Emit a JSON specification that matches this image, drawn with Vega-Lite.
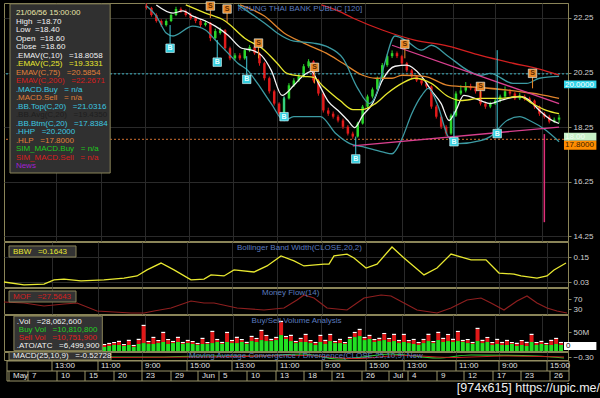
{
"$schema": "https://vega.github.io/schema/vega-lite/v6.json",
"background": "#000000",
"padding": 0,
"spacing": 1,
"bounds": "flush",
"config": {
 "view": {"stroke": "#8a8458", "fill": "#000000"},
 "axis": {"labelColor": "#d0d0d0", "labelFontSize": 8, "labelFont": "Liberation Sans", "tickColor": "#8a8458", "domainColor": "#8a8458", "tickSize": 3, "gridColor": "#2a2a2a", "labelPadding": 2},
 "text": {"font": "Liberation Sans", "fontSize": 8}
},
"datasets": {
 "px": [
  {"t":140,"o":22.70,"c":22.62,"h":22.78,"l":22.56},{"t":145,"o":22.62,"c":22.36,"h":22.66,"l":22.30},{"t":150,"o":22.36,"c":22.14,"h":22.42,"l":22.08},{"t":155,"o":22.14,"c":21.99,"h":22.20,"l":21.92},{"t":160,"o":21.99,"c":22.14,"h":22.20,"l":21.94},{"t":165,"o":22.14,"c":22.36,"h":22.42,"l":22.10},{"t":170,"o":22.36,"c":22.58,"h":22.66,"l":22.32},{"t":175,"o":22.58,"c":22.51,"h":22.64,"l":22.44},{"t":180,"o":22.51,"c":22.36,"h":22.56,"l":22.30},{"t":185,"o":22.36,"c":22.25,"h":22.44,"l":22.18},{"t":190,"o":22.25,"c":22.14,"h":22.32,"l":22.06},{"t":195,"o":22.14,"c":21.99,"h":22.20,"l":21.92},{"t":200,"o":21.99,"c":22.07,"h":22.16,"l":21.94},{"t":205,"o":22.07,"c":21.51,"h":22.10,"l":21.40},{"t":210,"o":21.51,"c":21.77,"h":21.86,"l":21.46},{"t":215,"o":21.70,"c":21.80,"h":21.90,"l":21.64},{"t":220,"o":21.80,"c":21.14,"h":21.84,"l":21.05},{"t":225,"o":21.14,"c":20.77,"h":21.20,"l":20.70},{"t":230,"o":20.77,"c":20.88,"h":20.96,"l":20.70},{"t":235,"o":20.88,"c":20.77,"h":20.96,"l":20.70},{"t":240,"o":20.77,"c":21.07,"h":21.14,"l":20.72},{"t":245,"o":21.07,"c":21.18,"h":21.26,"l":21.00},{"t":250,"o":21.18,"c":20.96,"h":21.22,"l":20.90},{"t":255,"o":20.96,"c":20.59,"h":21.00,"l":20.50},{"t":260,"o":20.59,"c":20.04,"h":20.64,"l":19.96},{"t":265,"o":20.04,"c":19.56,"h":20.10,"l":19.48},{"t":270,"o":19.56,"c":19.11,"h":19.62,"l":19.04},{"t":275,"o":19.11,"c":18.74,"h":19.16,"l":18.66},{"t":280,"o":18.74,"c":19.30,"h":19.36,"l":18.70},{"t":285,"o":19.30,"c":19.78,"h":19.86,"l":19.26},{"t":290,"o":19.78,"c":19.96,"h":20.04,"l":19.72},{"t":295,"o":19.96,"c":20.11,"h":20.20,"l":19.90},{"t":300,"o":20.11,"c":20.48,"h":20.56,"l":20.06},{"t":305,"o":20.48,"c":20.66,"h":20.74,"l":20.42},{"t":310,"o":20.66,"c":19.96,"h":20.70,"l":19.88},{"t":315,"o":19.96,"c":19.48,"h":20.02,"l":19.40},{"t":320,"o":19.48,"c":18.86,"h":19.54,"l":18.78},{"t":325,"o":18.86,"c":18.74,"h":18.96,"l":18.66},{"t":330,"o":18.74,"c":18.63,"h":18.82,"l":18.56},{"t":335,"o":18.63,"c":18.49,"h":18.70,"l":18.42},{"t":340,"o":18.49,"c":18.26,"h":18.56,"l":18.18},{"t":345,"o":18.26,"c":18.01,"h":18.32,"l":17.94},{"t":350,"o":18.01,"c":17.90,"h":18.08,"l":17.82},{"t":355,"o":17.90,"c":18.38,"h":18.44,"l":17.86},{"t":360,"o":18.38,"c":19.00,"h":19.06,"l":18.34},{"t":365,"o":19.00,"c":19.37,"h":19.44,"l":18.94},{"t":370,"o":19.37,"c":19.63,"h":19.70,"l":19.30},{"t":375,"o":19.63,"c":20.04,"h":20.10,"l":19.58},{"t":380,"o":20.04,"c":20.52,"h":20.60,"l":20.00},{"t":385,"o":20.52,"c":20.85,"h":20.92,"l":20.46},{"t":390,"o":20.85,"c":20.96,"h":21.06,"l":20.78},{"t":395,"o":20.96,"c":20.85,"h":21.02,"l":20.78},{"t":400,"o":20.85,"c":20.59,"h":20.90,"l":20.52},{"t":405,"o":20.59,"c":20.33,"h":20.64,"l":20.26},{"t":410,"o":20.33,"c":20.11,"h":20.38,"l":20.04},{"t":415,"o":20.11,"c":19.96,"h":20.16,"l":19.90},{"t":420,"o":19.96,"c":19.85,"h":20.02,"l":19.78},{"t":425,"o":19.85,"c":19.74,"h":19.90,"l":19.66},{"t":430,"o":19.74,"c":19.00,"h":19.78,"l":18.92},{"t":435,"o":19.00,"c":18.63,"h":19.06,"l":18.56},{"t":440,"o":18.63,"c":18.26,"h":18.68,"l":18.18},{"t":445,"o":18.26,"c":18.01,"h":18.32,"l":17.92},{"t":450,"o":18.01,"c":18.67,"h":18.74,"l":17.96},{"t":455,"o":18.67,"c":19.48,"h":19.56,"l":18.62},{"t":460,"o":19.48,"c":19.59,"h":19.78,"l":19.42},{"t":465,"o":19.59,"c":19.74,"h":19.90,"l":19.52},{"t":470,"o":19.74,"c":19.67,"h":19.84,"l":19.60},{"t":475,"o":19.67,"c":19.56,"h":19.72,"l":19.48},{"t":480,"o":19.56,"c":19.11,"h":19.60,"l":19.04},{"t":485,"o":19.11,"c":19.00,"h":19.18,"l":18.92},{"t":490,"o":19.00,"c":19.11,"h":19.18,"l":18.94},{"t":495,"o":19.11,"c":19.22,"h":19.30,"l":19.06},{"t":500,"o":19.22,"c":19.37,"h":19.44,"l":19.16},{"t":505,"o":19.37,"c":19.56,"h":19.74,"l":19.32},{"t":510,"o":19.56,"c":19.48,"h":19.64,"l":19.40},{"t":515,"o":19.48,"c":19.30,"h":19.54,"l":19.24},{"t":520,"o":19.30,"c":19.37,"h":19.50,"l":19.24},{"t":525,"o":19.37,"c":19.30,"h":19.44,"l":19.22},{"t":530,"o":19.30,"c":19.22,"h":19.36,"l":19.16},{"t":535,"o":19.22,"c":19.00,"h":19.26,"l":18.92},{"t":540,"o":19.00,"c":18.74,"h":19.04,"l":18.66},{"t":545,"o":18.74,"c":18.63,"h":18.80,"l":18.56},{"t":550,"o":18.63,"c":18.45,"h":18.70,"l":18.38},{"t":555,"o":18.45,"c":18.52,"h":18.60,"l":18.40},{"t":560,"o":18.52,"c":18.60,"h":18.70,"l":18.40}
 ],
 "lines": [
  {"s":"e10","t":150,"v":22.73},{"s":"e10","t":167,"v":22.43},{"s":"e10","t":177,"v":22.51},{"s":"e10","t":187,"v":22.32},{"s":"e10","t":200,"v":22.14},{"s":"e10","t":210,"v":21.95},{"s":"e10","t":223,"v":21.62},{"s":"e10","t":237,"v":21.14},{"s":"e10","t":247,"v":21.07},{"s":"e10","t":257,"v":20.88},{"s":"e10","t":267,"v":20.33},{"s":"e10","t":278,"v":19.41},{"s":"e10","t":290,"v":19.78},{"s":"e10","t":300,"v":20.15},{"s":"e10","t":308,"v":20.29},{"s":"e10","t":315,"v":19.85},{"s":"e10","t":325,"v":19.19},{"s":"e10","t":335,"v":18.86},{"s":"e10","t":345,"v":18.49},{"s":"e10","t":352,"v":18.23},{"s":"e10","t":360,"v":18.67},{"s":"e10","t":370,"v":19.11},{"s":"e10","t":380,"v":19.96},{"s":"e10","t":393,"v":20.48},{"s":"e10","t":405,"v":20.52},{"s":"e10","t":420,"v":20.11},{"s":"e10","t":430,"v":19.59},{"s":"e10","t":440,"v":19.11},{"s":"e10","t":448,"v":18.49},{"s":"e10","t":455,"v":18.86},{"s":"e10","t":463,"v":19.41},{"s":"e10","t":480,"v":19.22},{"s":"e10","t":490,"v":19.11},{"s":"e10","t":500,"v":19.22},{"s":"e10","t":520,"v":19.37},{"s":"e10","t":530,"v":19.22},{"s":"e10","t":540,"v":18.86},{"s":"e10","t":553,"v":18.49},{"s":"e10","t":560,"v":18.38},
  {"s":"e25","t":180,"v":22.73},{"s":"e25","t":200,"v":22.43},{"s":"e25","t":220,"v":22.14},{"s":"e25","t":240,"v":21.51},{"s":"e25","t":260,"v":21.07},{"s":"e25","t":273,"v":20.59},{"s":"e25","t":283,"v":20.22},{"s":"e25","t":300,"v":20.11},{"s":"e25","t":310,"v":20.07},{"s":"e25","t":320,"v":19.74},{"s":"e25","t":337,"v":19.22},{"s":"e25","t":350,"v":18.89},{"s":"e25","t":360,"v":18.89},{"s":"e25","t":373,"v":19.11},{"s":"e25","t":385,"v":19.48},{"s":"e25","t":400,"v":19.85},{"s":"e25","t":413,"v":20.04},{"s":"e25","t":430,"v":19.85},{"s":"e25","t":447,"v":19.37},{"s":"e25","t":460,"v":19.22},{"s":"e25","t":480,"v":19.30},{"s":"e25","t":500,"v":19.30},{"s":"e25","t":520,"v":19.37},{"s":"e25","t":533,"v":19.11},{"s":"e25","t":547,"v":18.86},{"s":"e25","t":560,"v":18.74},
  {"s":"e75","t":235,"v":22.73},{"s":"e75","t":260,"v":22.32},{"s":"e75","t":280,"v":21.70},{"s":"e75","t":300,"v":21.33},{"s":"e75","t":323,"v":20.96},{"s":"e75","t":340,"v":20.59},{"s":"e75","t":360,"v":20.15},{"s":"e75","t":373,"v":20.04},{"s":"e75","t":390,"v":20.04},{"s":"e75","t":400,"v":20.15},{"s":"e75","t":423,"v":20.11},{"s":"e75","t":447,"v":19.78},{"s":"e75","t":480,"v":19.70},{"s":"e75","t":520,"v":19.55},{"s":"e75","t":540,"v":19.45},{"s":"e75","t":560,"v":19.30},
  {"s":"e200","t":318,"v":22.73},{"s":"e200","t":335,"v":22.51},{"s":"e200","t":350,"v":22.25},{"s":"e200","t":380,"v":21.81},{"s":"e200","t":413,"v":21.44},{"s":"e200","t":447,"v":21.22},{"s":"e200","t":480,"v":20.88},{"s":"e200","t":513,"v":20.59},{"s":"e200","t":540,"v":20.37},{"s":"e200","t":560,"v":20.15},
  {"s":"bbt","t":233,"v":22.73},{"s":"bbt","t":250,"v":22.32},{"s":"bbt","t":260,"v":22.07},{"s":"bbt","t":273,"v":21.70},{"s":"bbt","t":290,"v":21.40},{"s":"bbt","t":310,"v":21.33},{"s":"bbt","t":325,"v":21.18},{"s":"bbt","t":340,"v":20.77},{"s":"bbt","t":355,"v":19.67},{"s":"bbt","t":367,"v":19.11},{"s":"bbt","t":375,"v":19.56},{"s":"bbt","t":382,"v":20.52},{"s":"bbt","t":393,"v":21.59},{"s":"bbt","t":405,"v":21.40},{"s":"bbt","t":420,"v":21.07},{"s":"bbt","t":430,"v":21.25},{"s":"bbt","t":447,"v":20.85},{"s":"bbt","t":467,"v":20.33},{"s":"bbt","t":480,"v":20.15},{"s":"bbt","t":490,"v":20.22},{"s":"bbt","t":513,"v":19.85},{"s":"bbt","t":527,"v":19.85},{"s":"bbt","t":540,"v":20.04},{"s":"bbt","t":560,"v":20.11},
  {"s":"bbb","t":140,"v":22.69},{"s":"bbb","t":150,"v":22.32},{"s":"bbb","t":160,"v":21.70},{"s":"bbb","t":167,"v":21.59},{"s":"bbb","t":187,"v":21.95},{"s":"bbb","t":200,"v":21.81},{"s":"bbb","t":210,"v":21.44},{"s":"bbb","t":223,"v":20.96},{"s":"bbb","t":233,"v":20.59},{"s":"bbb","t":243,"v":20.33},{"s":"bbb","t":253,"v":19.85},{"s":"bbb","t":267,"v":19.11},{"s":"bbb","t":280,"v":18.49},{"s":"bbb","t":290,"v":18.63},{"s":"bbb","t":317,"v":18.63},{"s":"bbb","t":333,"v":18.00},{"s":"bbb","t":347,"v":17.64},{"s":"bbb","t":360,"v":17.53},{"s":"bbb","t":380,"v":17.34},{"s":"bbb","t":390,"v":17.27},{"s":"bbb","t":400,"v":17.82},{"s":"bbb","t":410,"v":18.74},{"s":"bbb","t":420,"v":19.40},{"s":"bbb","t":427,"v":19.67},{"s":"bbb","t":437,"v":19.00},{"s":"bbb","t":447,"v":17.90},{"s":"bbb","t":457,"v":17.64},{"s":"bbb","t":480,"v":17.75},{"s":"bbb","t":490,"v":17.90},{"s":"bbb","t":507,"v":18.49},{"s":"bbb","t":520,"v":18.63},{"s":"bbb","t":530,"v":18.49},{"s":"bbb","t":547,"v":18.12},{"s":"bbb","t":560,"v":17.71},
  {"s":"tu","t":390,"v":21.25},{"s":"tu","t":560,"v":19.11},
  {"s":"tl","t":350,"v":17.56},{"s":"tl","t":560,"v":18.25}
 ],
 "marks": [
  {"t":164,"p":21.14,"a":21.99,"b":21.30,"k":"B"},{"t":212,"p":20.63,"a":21.44,"b":20.78,"k":"B"},{"t":242,"p":20.00,"a":20.85,"b":20.15,"k":"B"},{"t":280,"p":18.63,"a":19.37,"b":18.78,"k":"B"},{"t":353,"p":17.08,"a":17.90,"b":17.23,"k":"B"},{"t":453,"p":17.71,"a":18.82,"b":17.86,"k":"B"},{"t":497,"p":18.01,"a":21.07,"b":18.16,"k":"B"},
  {"t":205,"p":22.69,"a":22.55,"b":22.25,"k":"S"},{"t":222,"p":22.58,"a":22.44,"b":22.10,"k":"S"},{"t":254,"p":21.33,"a":21.19,"b":20.77,"k":"S"},{"t":311,"p":20.44,"a":20.30,"b":19.85,"k":"S"},{"t":403,"p":21.29,"a":21.15,"b":20.77,"k":"S"},{"t":480,"p":19.74,"a":19.60,"b":19.22,"k":"S"},{"t":533,"p":20.22,"a":20.08,"b":19.67,"k":"S"}
 ],
 "leg": [
  {"row":1,"txt":"21/06/56 15:00:00","k":"date"},
  {"row":2,"txt":"High\u00a0\u00a0=18.70","k":"w"},
  {"row":3,"txt":"Low\u00a0\u00a0=18.40","k":"w"},
  {"row":4,"txt":"Open\u00a0\u00a0=18.60","k":"w"},
  {"row":5,"txt":"Close\u00a0\u00a0=18.60","k":"w"},
  {"row":6,"txt":".EMAV(C,10)\u00a0\u00a0\u00a0=18.8058","k":"w"},
  {"row":7,"txt":".EMAV(C,25)\u00a0\u00a0\u00a0=19.3331","k":"y"},
  {"row":8,"txt":"EMAV(C,75)\u00a0\u00a0\u00a0=20.5854","k":"o"},
  {"row":9,"txt":"EMAV(C,200)\u00a0\u00a0\u00a0=22.2671","k":"r"},
  {"row":10,"txt":".MACD.Buy\u00a0\u00a0\u00a0= n/a","k":"c"},
  {"row":11,"txt":".MACD.Sell\u00a0\u00a0\u00a0= n/a","k":"o"},
  {"row":12,"txt":".BB.Top(C,20)\u00a0\u00a0\u00a0=21.0316","k":"c"},
  {"row":13,"txt":".BB.Avg(C,20)\u00a0\u00a0\u00a0=19.4350","k":"dk"},
  {"row":14,"txt":".BB.Btm(C,20)\u00a0\u00a0\u00a0=17.8384","k":"c"},
  {"row":15,"txt":".HHP\u00a0\u00a0\u00a0=20.2000","k":"c"},
  {"row":16,"txt":".HLP\u00a0\u00a0\u00a0=17.8000","k":"o"},
  {"row":17,"txt":"SIM_MACD.Buy\u00a0\u00a0\u00a0= n/a","k":"g"},
  {"row":18,"txt":"SIM_MACD.Sell\u00a0\u00a0\u00a0= n/a","k":"r"},
  {"row":19,"txt":"News","k":"p"}
 ],
 "bbw": [
  {"t":0,"v":0.030},{"t":20,"v":0.016},{"t":40,"v":0.020},{"t":50,"v":0.040},{"t":60,"v":0.044},{"t":77,"v":0.035},{"t":100,"v":0.040},{"t":120,"v":0.049},{"t":133,"v":0.059},{"t":143,"v":0.088},{"t":157,"v":0.121},{"t":170,"v":0.088},{"t":187,"v":0.040},{"t":200,"v":0.044},{"t":207,"v":0.064},{"t":220,"v":0.059},{"t":230,"v":0.088},{"t":250,"v":0.078},{"t":263,"v":0.107},{"t":277,"v":0.155},{"t":290,"v":0.131},{"t":300,"v":0.107},{"t":320,"v":0.116},{"t":325,"v":0.116},{"t":330,"v":0.155},{"t":343,"v":0.164},{"t":350,"v":0.145},{"t":362,"v":0.097},{"t":373,"v":0.116},{"t":388,"v":0.198},{"t":400,"v":0.145},{"t":420,"v":0.064},{"t":433,"v":0.097},{"t":447,"v":0.164},{"t":467,"v":0.136},{"t":482,"v":0.136},{"t":495,"v":0.073},{"t":510,"v":0.068},{"t":517,"v":0.059},{"t":533,"v":0.049},{"t":543,"v":0.059},{"t":550,"v":0.088},{"t":562,"v":0.121}
 ],
 "mfi": [
  {"t":0,"v":58},{"t":20,"v":54},{"t":40,"v":42},{"t":60,"v":50},{"t":73,"v":54},{"t":93,"v":22},{"t":110,"v":18},{"t":127,"v":14},{"t":140,"v":14},{"t":150,"v":22},{"t":167,"v":34},{"t":187,"v":62},{"t":200,"v":54},{"t":210,"v":54},{"t":233,"v":34},{"t":260,"v":26},{"t":280,"v":34},{"t":293,"v":66},{"t":300,"v":86},{"t":310,"v":74},{"t":323,"v":34},{"t":343,"v":26},{"t":360,"v":74},{"t":377,"v":86},{"t":387,"v":82},{"t":400,"v":54},{"t":413,"v":26},{"t":433,"v":14},{"t":447,"v":34},{"t":463,"v":66},{"t":477,"v":74},{"t":487,"v":54},{"t":500,"v":26},{"t":513,"v":62},{"t":523,"v":82},{"t":533,"v":54},{"t":543,"v":34},{"t":553,"v":22},{"t":563,"v":14}
 ],
 "vol": [
  {"t":97,"buy":10.5,"tot":15.8,"all":18.6},{"t":102,"buy":13.2,"tot":18.4,"all":21.4},{"t":107,"buy":15.8,"tot":21.0,"all":23.8},{"t":112,"buy":15.8,"tot":23.7,"all":26.9},{"t":117,"buy":13.2,"tot":15.8,"all":18.5},{"t":122,"buy":15.8,"tot":26.3,"all":29.6},{"t":127,"buy":10.5,"tot":13.2,"all":16.0},{"t":132,"buy":18.4,"tot":28.9,"all":32.2},{"t":137,"buy":21.0,"tot":65.8,"all":69.1},{"t":142,"buy":18.4,"tot":23.7,"all":26.5},{"t":147,"buy":18.4,"tot":34.2,"all":37.4},{"t":152,"buy":21.0,"tot":26.3,"all":29.0},{"t":157,"buy":23.7,"tot":47.3,"all":50.6},{"t":162,"buy":18.4,"tot":28.9,"all":31.7},{"t":167,"buy":21.0,"tot":23.7,"all":26.6},{"t":172,"buy":23.7,"tot":34.2,"all":37.5},{"t":177,"buy":18.4,"tot":21.0,"all":23.9},{"t":182,"buy":21.0,"tot":26.3,"all":29.4},{"t":187,"buy":18.4,"tot":23.7,"all":26.4},{"t":192,"buy":15.8,"tot":18.4,"all":21.3},{"t":197,"buy":18.4,"tot":31.6,"all":34.8},{"t":202,"buy":18.4,"tot":21.0,"all":23.7},{"t":207,"buy":21.0,"tot":50.0,"all":53.3},{"t":212,"buy":23.7,"tot":28.9,"all":31.8},{"t":217,"buy":18.4,"tot":21.0,"all":24.1},{"t":222,"buy":23.7,"tot":47.3,"all":50.5},{"t":227,"buy":21.0,"tot":26.3,"all":29.2},{"t":232,"buy":21.0,"tot":34.2,"all":37.6},{"t":237,"buy":23.7,"tot":28.9,"all":31.7},{"t":242,"buy":18.4,"tot":21.0,"all":24.2},{"t":247,"buy":26.3,"tot":36.8,"all":40.0},{"t":252,"buy":23.7,"tot":31.6,"all":34.5},{"t":257,"buy":28.9,"tot":52.6,"all":55.9},{"t":262,"buy":26.3,"tot":39.5,"all":42.4},{"t":267,"buy":26.3,"tot":28.9,"all":32.0},{"t":272,"buy":28.9,"tot":34.2,"all":37.3},{"t":277,"buy":42.1,"tot":76.3,"all":79.6},{"t":282,"buy":31.6,"tot":36.8,"all":39.7},{"t":287,"buy":26.3,"tot":39.5,"all":42.8},{"t":292,"buy":21.0,"tot":23.7,"all":26.6},{"t":297,"buy":23.7,"tot":31.6,"all":34.7},{"t":302,"buy":23.7,"tot":42.1,"all":45.3},{"t":307,"buy":21.0,"tot":26.3,"all":29.1},{"t":312,"buy":15.8,"tot":21.0,"all":23.9},{"t":317,"buy":23.7,"tot":39.5,"all":42.7},{"t":322,"buy":18.4,"tot":26.3,"all":29.4},{"t":327,"buy":26.3,"tot":42.1,"all":45.2},{"t":332,"buy":21.0,"tot":23.7,"all":26.5},{"t":337,"buy":21.0,"tot":28.9,"all":32.1},{"t":342,"buy":18.4,"tot":21.0,"all":23.8},{"t":347,"buy":31.6,"tot":34.2,"all":37.3},{"t":352,"buy":36.8,"tot":47.3,"all":50.4},{"t":357,"buy":39.5,"tot":55.2,"all":58.5},{"t":362,"buy":28.9,"tot":34.2,"all":37.1},{"t":367,"buy":31.6,"tot":39.5,"all":42.6},{"t":372,"buy":23.7,"tot":28.9,"all":31.8},{"t":377,"buy":26.3,"tot":31.6,"all":34.9},{"t":382,"buy":28.9,"tot":44.7,"all":47.6},{"t":387,"buy":23.7,"tot":31.6,"all":34.4},{"t":392,"buy":26.3,"tot":42.1,"all":45.4},{"t":397,"buy":21.0,"tot":26.3,"all":29.2},{"t":402,"buy":23.7,"tot":42.1,"all":45.3},{"t":407,"buy":21.0,"tot":26.3,"all":29.0},{"t":412,"buy":18.4,"tot":28.9,"all":32.0},{"t":417,"buy":15.8,"tot":21.0,"all":23.9},{"t":422,"buy":21.0,"tot":28.9,"all":31.9},{"t":427,"buy":26.3,"tot":42.1,"all":45.5},{"t":432,"buy":21.0,"tot":23.7,"all":26.4},{"t":437,"buy":28.9,"tot":47.3,"all":50.6},{"t":442,"buy":23.7,"tot":31.6,"all":34.7},{"t":447,"buy":26.3,"tot":42.1,"all":45.0},{"t":452,"buy":23.7,"tot":28.9,"all":32.2},{"t":457,"buy":26.3,"tot":50.0,"all":53.1},{"t":462,"buy":23.7,"tot":26.3,"all":29.3},{"t":467,"buy":21.0,"tot":28.9,"all":31.6},{"t":472,"buy":18.4,"tot":21.0,"all":24.0},{"t":477,"buy":26.3,"tot":57.9,"all":61.2},{"t":482,"buy":21.0,"tot":26.3,"all":29.5},{"t":487,"buy":23.7,"tot":34.2,"all":37.1},{"t":492,"buy":15.8,"tot":21.0,"all":23.8},{"t":497,"buy":18.4,"tot":28.9,"all":32.1},{"t":502,"buy":15.8,"tot":21.0,"all":24.0},{"t":507,"buy":15.8,"tot":26.3,"all":29.4},{"t":512,"buy":18.4,"tot":21.0,"all":23.7},{"t":517,"buy":13.2,"tot":18.4,"all":21.5},{"t":522,"buy":15.8,"tot":26.3,"all":29.1},{"t":527,"buy":13.2,"tot":21.0,"all":24.2},{"t":532,"buy":23.7,"tot":42.1,"all":45.4},{"t":537,"buy":15.8,"tot":21.0,"all":23.8},{"t":542,"buy":18.4,"tot":23.7,"all":26.8},{"t":547,"buy":15.8,"tot":18.4,"all":21.3},{"t":552,"buy":15.8,"tot":26.3,"all":29.5},{"t":557,"buy":18.4,"tot":31.6,"all":34.7},{"t":562,"buy":15.8,"tot":21.0,"all":23.9}
 ],
 "macd": [
  {"s":"m","t":100,"v":-0.30},{"s":"m","t":150,"v":-0.30},{"s":"m","t":200,"v":-0.20},{"s":"m","t":250,"v":-0.20},{"s":"m","t":300,"v":0.0},{"s":"m","t":333,"v":-0.50},{"s":"m","t":350,"v":-0.40},{"s":"m","t":387,"v":0.0},{"s":"m","t":433,"v":-0.40},{"s":"m","t":467,"v":-0.10},{"s":"m","t":533,"v":-0.20},{"s":"m","t":560,"v":-0.40},
  {"s":"sig","t":100,"v":-0.35},{"s":"sig","t":200,"v":-0.30},{"s":"sig","t":300,"v":-0.15},{"s":"sig","t":350,"v":-0.45},{"s":"sig","t":400,"v":-0.15},{"s":"sig","t":450,"v":-0.35},{"s":"sig","t":500,"v":-0.20},{"s":"sig","t":560,"v":-0.30}
 ],
 "tsep": [
  {"s":48,"lab":"13:00"},{"s":94,"lab":"11:00"},{"s":138,"lab":"9:00"},{"s":183,"lab":"15:00"},{"s":228,"lab":"13:00"},{"s":273,"lab":"11:00"},{"s":318,"lab":"9:00"},{"s":362,"lab":"15:00"},{"s":400,"lab":"13:00"},{"s":452,"lab":"11:00"},{"s":495,"lab":"9:00"},{"s":543,"lab":"15:00"}
 ],
 "dsep": [
  {"s":5,"lab":"May"},{"s":24,"lab":"7"},{"s":53,"lab":"10"},{"s":81,"lab":"15"},{"s":110,"lab":"20"},{"s":138,"lab":"23"},{"s":167,"lab":"29"},{"s":194,"lab":"Jun"},{"s":215,"lab":"5"},{"s":243,"lab":"10"},{"s":272,"lab":"13"},{"s":300,"lab":"18"},{"s":328,"lab":"21"},{"s":358,"lab":"26"},{"s":385,"lab":"Jul"},{"s":404,"lab":"4"},{"s":433,"lab":"9"},{"s":460,"lab":"12"},{"s":489,"lab":"17"},{"s":517,"lab":"23"},{"s":546,"lab":"26"}
 ]
},
"vconcat": [
 {
  "width": 564, "height": 238,
  "resolve": {"scale": {"y": "independent", "color": "independent"}},
  "layer": [
   {
    "layer": [
     {"data": {"name": "px"}, "mark": {"type": "rule", "strokeWidth": 1},
      "encoding": {
       "x": {"field": "t", "type": "quantitative", "scale": {"domain": [0, 564], "nice": false, "zero": false},
             "axis": {"orient": "bottom", "labels": false, "ticks": false, "domain": false, "grid": true, "values": [48,94,138,183,228,273,318,362,400,452,495,543], "title": null}},
       "y": {"field": "l", "type": "quantitative", "scale": {"domain": [14.07, 22.8], "nice": false, "zero": false},
             "axis": {"orient": "right", "values": [14.25,14.75,15.25,15.75,16.25,16.75,17.25,17.75,18.25,18.75,19.25,19.75,20.25,20.75,21.25,21.75,22.25], "format": ".2f", "grid": true, "title": null}},
       "y2": {"field": "h"},
       "color": {"condition": {"test": "datum.c >= datum.o", "value": "#2ad62a"}, "value": "#e01a1a"}
      }},
     {"data": {"name": "px"}, "mark": {"type": "bar", "width": 2.5},
      "encoding": {
       "x": {"field": "t", "type": "quantitative"},
       "y": {"field": "o", "type": "quantitative"},
       "y2": {"field": "c"},
       "color": {"condition": {"test": "datum.c >= datum.o", "value": "#2ad62a"}, "value": "#e01a1a"}
      }},
     {"data": {"values": [{}]}, "mark": {"type": "rule", "color": "#3fb8c8", "strokeDash": [2, 2], "strokeWidth": 1},
      "encoding": {"y": {"datum": 20.2}}},
     {"data": {"values": [{}]}, "mark": {"type": "rule", "color": "#d07030", "strokeDash": [2, 2], "strokeWidth": 1},
      "encoding": {"y": {"datum": 17.8}}},
     {"data": {"name": "lines"}, "mark": {"type": "line", "interpolate": "monotone"},
      "encoding": {
       "x": {"field": "t", "type": "quantitative"},
       "y": {"field": "v", "type": "quantitative"},
       "detail": {"field": "s"},
       "color": {"field": "s", "type": "nominal", "legend": null,
                 "scale": {"domain": ["e10","e25","e75","e200","bbt","bbb","tu","tl"], "range": ["#f4f4f4","#e8e82e","#e0842c","#d42020","#3c9aa2","#3c9aa2","#d9408f","#d9408f"]}},
       "strokeWidth": {"field": "s", "type": "nominal", "legend": null,
                 "scale": {"domain": ["e10","e25","e75","e200","bbt","bbb","tu","tl"], "range": [1.3,1.3,1.3,2.6,1,1,2,1.6]}}
      }},
     {"data": {"values": [{}]}, "mark": {"type": "rule", "color": "#e0307a", "strokeWidth": 1.5},
      "encoding": {"x": {"datum": 545}, "y": {"datum": 17.99}, "y2": {"datum": 14.76}}},
     {"data": {"name": "marks"}, "mark": {"type": "rule", "strokeWidth": 1},
      "encoding": {
       "x": {"field": "t", "type": "quantitative"},
       "y": {"field": "a", "type": "quantitative"},
       "y2": {"field": "b"},
       "color": {"condition": {"test": "datum.k === 'B'", "value": "#40c8d8"}, "value": "#e8892a"}
      }},
     {"data": {"name": "marks"}, "mark": {"type": "point", "shape": "square", "filled": true, "size": 72, "opacity": 1, "stroke": "#e8ffff", "strokeWidth": 0.6},
      "encoding": {
       "x": {"field": "t", "type": "quantitative"},
       "y": {"field": "p", "type": "quantitative"},
       "color": {"condition": {"test": "datum.k === 'B'", "value": "#36cfe0"}, "value": "#e8892a"}
      }},
     {"data": {"name": "marks"}, "mark": {"type": "text", "fontSize": 7, "fontWeight": "bold", "baseline": "middle"},
      "encoding": {
       "x": {"field": "t", "type": "quantitative"},
       "y": {"field": "p", "type": "quantitative"},
       "text": {"field": "k"},
       "color": {"condition": {"test": "datum.k === 'B'", "value": "#e6ffff"}, "value": "#5a2a00"}
      }},
     {"data": {"values": [{}]}, "mark": {"type": "rect", "fill": "#33d6ea"},
      "encoding": {"x": {"datum": 565}, "x2": {"datum": 598}, "y": {"datum": 19.96}, "y2": {"datum": 19.67}}},
     {"data": {"values": [{}]}, "mark": {"type": "text", "align": "left", "baseline": "middle", "color": "#ffffff", "fontSize": 8, "text": "20.0000"},
      "encoding": {"x": {"datum": 566}, "y": {"datum": 19.81}}},
     {"data": {"values": [{}]}, "mark": {"type": "rect", "fill": "#c8f2c8"},
      "encoding": {"x": {"datum": 565}, "x2": {"datum": 598}, "y": {"datum": 18.04}, "y2": {"datum": 17.75}}},
     {"data": {"values": [{}]}, "mark": {"type": "text", "align": "left", "baseline": "middle", "color": "#f4fff4", "fontSize": 8, "text": "18.00"},
      "encoding": {"x": {"datum": 566}, "y": {"datum": 17.90}}},
     {"data": {"values": [{}]}, "mark": {"type": "rect", "fill": "#ff8c00"},
      "encoding": {"x": {"datum": 565}, "x2": {"datum": 598}, "y": {"datum": 17.75}, "y2": {"datum": 17.42}}},
     {"data": {"values": [{}]}, "mark": {"type": "text", "align": "left", "baseline": "middle", "color": "#3a1e00", "fontSize": 8, "text": "17.8000"},
      "encoding": {"x": {"datum": 566}, "y": {"datum": 17.59}}}
    ]
   },
   {
    "layer": [
     {"data": {"values": [{}]}, "mark": {"type": "rect", "fill": "#303030", "stroke": "#8a8458", "strokeWidth": 1},
      "encoding": {
       "x": {"datum": 1}, "x2": {"datum": 103},
       "y": {"datum": 0.1, "type": "quantitative", "scale": {"domain": [0, 28], "reverse": true, "nice": false, "zero": false}, "axis": null},
       "y2": {"datum": 20}
      }},
     {"data": {"name": "leg"}, "mark": {"type": "text", "align": "left", "baseline": "middle", "dy": 1.5, "fontSize": 8},
      "encoding": {
       "x": {"datum": 7},
       "y": {"field": "row", "type": "quantitative"},
       "text": {"field": "txt"},
       "color": {"field": "k", "type": "nominal", "legend": null,
                 "scale": {"domain": ["date","w","y","o","r","c","dk","g","p"], "range": ["#e8e4a8","#f2f2f2","#e8e82e","#e0803a","#d81e1e","#3cc8e0","#1e1e1e","#1ec81e","#a020d0"]}}
      }},
     {"data": {"values": [{}]}, "mark": {"type": "text", "align": "left", "baseline": "middle", "color": "#5b7bbf", "fontSize": 8, "text": "KRUNG THAI BANK PUBLIC [120]"},
      "encoding": {"x": {"datum": 233}, "y": {"datum": 0.75}}}
    ]
   }
  ]
 },
 {
  "width": 564, "height": 45,
  "layer": [
   {"data": {"name": "bbw"}, "mark": {"type": "line", "color": "#e8e830", "strokeWidth": 1.3},
    "encoding": {
     "x": {"field": "t", "type": "quantitative", "scale": {"domain": [0, 564], "nice": false, "zero": false},
           "axis": {"orient": "bottom", "labels": false, "ticks": false, "domain": false, "grid": true, "values": [48,94,138,183,228,273,318,362,400,452,495,543], "title": null}},
     "y": {"field": "v", "type": "quantitative", "scale": {"domain": [0.006, 0.222], "nice": false, "zero": false},
           "axis": {"orient": "right", "values": [0.03, 0.09, 0.15], "format": ".2f", "grid": true, "title": null}}
    }},
   {"data": {"values": [{}]}, "mark": {"type": "rect", "fill": "#333333", "stroke": "#8a8458"},
    "encoding": {"x": {"datum": 5}, "x2": {"datum": 72}, "y": {"datum": 0.203}, "y2": {"datum": 0.150}}},
   {"data": {"values": [{}]}, "mark": {"type": "text", "align": "left", "baseline": "middle", "color": "#e8e830", "fontSize": 8, "text": "BBW\u00a0\u00a0\u00a0=0.1643"},
    "encoding": {"x": {"datum": 9}, "y": {"datum": 0.176}}},
   {"data": {"values": [{}]}, "mark": {"type": "text", "align": "left", "baseline": "middle", "color": "#5b7bbf", "fontSize": 8, "text": "Bollinger Band Width(CLOSE,20,2)"},
    "encoding": {"x": {"datum": 233}, "y": {"datum": 0.193}}}
  ]
 },
 {
  "width": 564, "height": 26,
  "layer": [
   {"data": {"name": "mfi"}, "mark": {"type": "line", "color": "#8e1f1f", "strokeWidth": 1.2},
    "encoding": {
     "x": {"field": "t", "type": "quantitative", "scale": {"domain": [0, 564], "nice": false, "zero": false},
           "axis": {"orient": "bottom", "labels": false, "ticks": false, "domain": false, "grid": true, "values": [48,94,138,183,228,273,318,362,400,452,495,543], "title": null}},
     "y": {"field": "v", "type": "quantitative", "scale": {"domain": [10, 114], "nice": false, "zero": false},
           "axis": {"orient": "right", "values": [30, 70], "grid": false, "title": null}}
    }},
   {"data": {"values": [{}]}, "mark": {"type": "rect", "fill": "#333333", "stroke": "#8a8458"},
    "encoding": {"x": {"datum": 5}, "x2": {"datum": 72}, "y": {"datum": 102}, "y2": {"datum": 58}}},
   {"data": {"values": [{}]}, "mark": {"type": "text", "align": "left", "baseline": "middle", "color": "#d42020", "fontSize": 8, "text": "MOF\u00a0\u00a0\u00a0=27.5643"},
    "encoding": {"x": {"datum": 9}, "y": {"datum": 80}}},
   {"data": {"values": [{}]}, "mark": {"type": "text", "align": "left", "baseline": "middle", "color": "#5b7bbf", "fontSize": 8, "text": "Money Flow(14)"},
    "encoding": {"x": {"datum": 258}, "y": {"datum": 94}}}
  ]
 },
 {
  "width": 564, "height": 36,
  "layer": [
   {"data": {"name": "vol"}, "mark": {"type": "bar", "width": 4, "color": "#22e022"},
    "encoding": {
     "x": {"field": "t", "type": "quantitative", "scale": {"domain": [0, 564], "nice": false, "zero": false},
           "axis": {"orient": "bottom", "labels": false, "ticks": false, "domain": false, "grid": true, "values": [48,94,138,183,228,273,318,362,400,452,495,543], "title": null}},
     "y": {"field": "buy", "type": "quantitative", "scale": {"domain": [0, 95], "nice": false, "zero": false},
           "axis": {"orient": "right", "values": [50], "labelExpr": "datum.value + 'M'", "grid": false, "title": null}},
     "y2": {"datum": 0}
    }},
   {"data": {"name": "vol"}, "mark": {"type": "bar", "width": 4, "color": "#e01818"},
    "encoding": {"x": {"field": "t", "type": "quantitative"}, "y": {"field": "tot", "type": "quantitative"}, "y2": {"field": "buy"}}},
   {"data": {"name": "vol"}, "mark": {"type": "bar", "width": 4, "color": "#ffffff"},
    "encoding": {"x": {"field": "t", "type": "quantitative"}, "y": {"field": "all", "type": "quantitative"}, "y2": {"field": "tot"}}},
   {"data": {"values": [{}]}, "mark": {"type": "rect", "fill": "#333333", "stroke": "#8a8458"},
    "encoding": {"x": {"datum": 5}, "x2": {"datum": 95}, "y": {"datum": 92}, "y2": {"datum": 1}}},
   {"data": {"values": [{}]}, "mark": {"type": "text", "align": "left", "baseline": "middle", "color": "#f2f2f2", "fontSize": 8, "text": ".Vol\u00a0\u00a0\u00a0=28,062,600"},
    "encoding": {"x": {"datum": 8}, "y": {"datum": 76}}},
   {"data": {"values": [{}]}, "mark": {"type": "text", "align": "left", "baseline": "middle", "color": "#22d022", "fontSize": 8, "text": "Buy Vol\u00a0\u00a0\u00a0=10,810,800"},
    "encoding": {"x": {"datum": 10}, "y": {"datum": 55}}},
   {"data": {"values": [{}]}, "mark": {"type": "text", "align": "left", "baseline": "middle", "color": "#e02020", "fontSize": 8, "text": "Sell Vol\u00a0\u00a0\u00a0=10,751,900"},
    "encoding": {"x": {"datum": 10}, "y": {"datum": 34}}},
   {"data": {"values": [{}]}, "mark": {"type": "text", "align": "left", "baseline": "middle", "color": "#f2f2f2", "fontSize": 8, "text": ".ATO/ATC\u00a0\u00a0\u00a0=6,499,900"},
    "encoding": {"x": {"datum": 8}, "y": {"datum": 13}}},
   {"data": {"values": [{}]}, "mark": {"type": "text", "align": "left", "baseline": "middle", "color": "#5b7bbf", "fontSize": 8, "text": "Buy/Sell Volume Analysis"},
    "encoding": {"x": {"datum": 247}, "y": {"datum": 79}}},
   {"data": {"values": [{}]}, "mark": {"type": "rect", "fill": "#ffffff"},
    "encoding": {"x": {"datum": 565}, "x2": {"datum": 598}, "y": {"datum": 23.7}, "y2": {"datum": 2.6}}},
   {"data": {"values": [{}]}, "mark": {"type": "text", "align": "left", "baseline": "middle", "color": "#000000", "fontSize": 8, "text": "0"},
    "encoding": {"x": {"datum": 567}, "y": {"datum": 13}}}
  ]
 },
 {
  "width": 564, "height": 8,
  "layer": [
   {"data": {"name": "macd"}, "mark": {"type": "line", "strokeWidth": 1.2, "interpolate": "monotone"},
    "encoding": {
     "x": {"field": "t", "type": "quantitative", "scale": {"domain": [0, 564], "nice": false, "zero": false},
           "axis": {"orient": "bottom", "labels": false, "ticks": false, "domain": false, "grid": true, "values": [48,94,138,183,228,273,318,362,400,452,495,543], "title": null}},
     "y": {"field": "v", "type": "quantitative", "scale": {"domain": [-0.6, 0.2], "nice": false, "zero": false},
           "axis": {"orient": "right", "values": [-0.3], "format": ".2f", "grid": false, "title": null}},
     "color": {"field": "s", "type": "nominal", "legend": null, "scale": {"domain": ["m", "sig"], "range": ["#2ec82e", "#c02020"]}}
    }},
   {"data": {"values": [{}]}, "mark": {"type": "rect", "fill": "#333333", "stroke": "#8a8458"},
    "encoding": {"x": {"datum": 5}, "x2": {"datum": 107}, "y": {"datum": 0.2}, "y2": {"datum": -0.6}}},
   {"data": {"values": [{}]}, "mark": {"type": "text", "align": "left", "baseline": "middle", "color": "#f2f2f2", "fontSize": 8, "text": "MACD(25,10,9)\u00a0\u00a0\u00a0=-0.52728"},
    "encoding": {"x": {"datum": 9}, "y": {"datum": -0.2}}},
   {"data": {"values": [{}]}, "mark": {"type": "text", "align": "left", "baseline": "middle", "color": "#5b7bbf", "fontSize": 8, "text": "Moving Average Convergence / Divergence(CLOSE,25,10,9) New"},
    "encoding": {"x": {"datum": 185}, "y": {"datum": -0.2}}}
  ]
 },
 {
  "width": 564, "height": 40,
  "view": {"stroke": "transparent"},
  "layer": [
   {"data": {"values": [{}]}, "mark": {"type": "rule", "color": "#9a9468"},
    "encoding": {
     "x": {"datum": 3, "type": "quantitative", "scale": {"domain": [0, 564], "nice": false, "zero": false}, "axis": null},
     "x2": {"datum": 565},
     "y": {"datum": 4, "type": "quantitative", "scale": {"domain": [0, 4], "nice": false, "zero": false}, "axis": null}
    }},
   {"data": {"values": [{}]}, "mark": {"type": "rule", "color": "#9a9468"},
    "encoding": {"x": {"datum": 3}, "x2": {"datum": 565}, "y": {"datum": 3}}},
   {"data": {"values": [{}]}, "mark": {"type": "rule", "color": "#9a9468"},
    "encoding": {"x": {"datum": 3}, "x2": {"datum": 565}, "y": {"datum": 2}}},
   {"data": {"values": [{}]}, "mark": {"type": "rule", "color": "#9a9468"},
    "encoding": {"x": {"datum": 3}, "y": {"datum": 4}, "y2": {"datum": 2}}},
   {"data": {"values": [{}]}, "mark": {"type": "rule", "color": "#9a9468"},
    "encoding": {"x": {"datum": 565}, "y": {"datum": 4}, "y2": {"datum": 2}}},
   {"data": {"name": "tsep"}, "mark": {"type": "rule", "color": "#9a9468"},
    "encoding": {"x": {"field": "s", "type": "quantitative"}, "y": {"datum": 4}, "y2": {"datum": 3}}},
   {"data": {"name": "tsep"}, "mark": {"type": "text", "align": "left", "baseline": "middle", "dx": 3, "color": "#e0e0e0", "fontSize": 8},
    "encoding": {"x": {"field": "s", "type": "quantitative"}, "y": {"datum": 3.5}, "text": {"field": "lab"}}},
   {"data": {"name": "dsep"}, "mark": {"type": "rule", "color": "#9a9468"},
    "encoding": {"x": {"field": "s", "type": "quantitative"}, "y": {"datum": 3}, "y2": {"datum": 2}}},
   {"data": {"name": "dsep"}, "mark": {"type": "text", "align": "left", "baseline": "middle", "dx": 4, "color": "#e0e0e0", "fontSize": 8},
    "encoding": {"x": {"field": "s", "type": "quantitative"}, "y": {"datum": 2.5}, "text": {"field": "lab"}}},
   {"data": {"values": [{}]}, "mark": {"type": "text", "align": "right", "baseline": "middle", "color": "#f0f0f0", "fontSize": 12.5, "font": "Liberation Sans", "text": "[974x615] https://upic.me/"},
    "encoding": {"x": {"datum": 596}, "y": {"datum": 1.3}}}
  ]
 }
]
}
